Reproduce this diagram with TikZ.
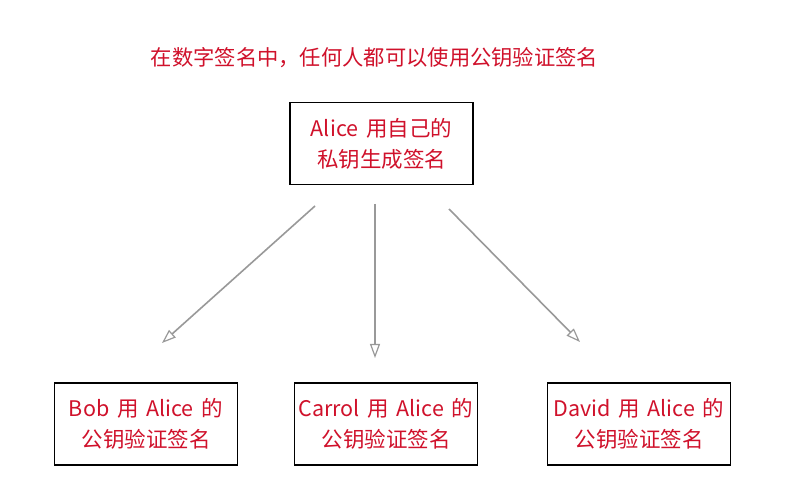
\documentclass[tikz,border=0pt]{standalone}
\usepackage{fontspec}
\setmainfont{Noto Sans CJK SC}[WordSpace={1.6}]
\usetikzlibrary{arrows.meta}
\definecolor{txtred}{HTML}{D0112B}
\definecolor{arrgray}{HTML}{999999}
\tikzset{
  box/.style={draw=black, line width=1.6pt, minimum width=183pt, minimum height=82pt, inner sep=0pt, text=txtred, font=\fontsize{21.5}{31}\selectfont, align=center},
  conn/.style={draw=arrgray, line width=1.6pt, -{Triangle[open, length=14pt, width=10pt, line width=1.2pt]}}
}
\begin{document}
\begin{tikzpicture}[x=1pt, y=-1pt]
\useasboundingbox (0,0) rectangle (796,502);
\fill[white] (0,0) rectangle (796,502);
\node[text=txtred, font=\fontsize{21.3}{24}\selectfont, inner sep=0pt] (title) at (374.5,58) {在数字签名中，任何人都可以使用公钥验证签名};
\node[box] (alice) at (381.5,143.5) {Alice 用自己的\\私钥生成签名};
\node[box] (bob) at (146,424) {Bob 用 Alice 的\\公钥验证签名};
\node[box] (carrol) at (386,424) {Carrol 用 Alice 的\\公钥验证签名};
\node[box] (david) at (639,424) {David 用 Alice 的\\公钥验证签名};
\coordinate (s1) at (315,206);
\coordinate (s2) at (375,204);
\coordinate (s3) at (449,209);
\coordinate (e1) at (162,343);
\coordinate (e2) at (375,358);
\coordinate (e3) at (580,342);
\draw[conn] (s1) -- (e1);
\draw[conn] (s2) -- (e2);
\draw[conn] (s3) -- (e3);
\end{tikzpicture}
\end{document}
